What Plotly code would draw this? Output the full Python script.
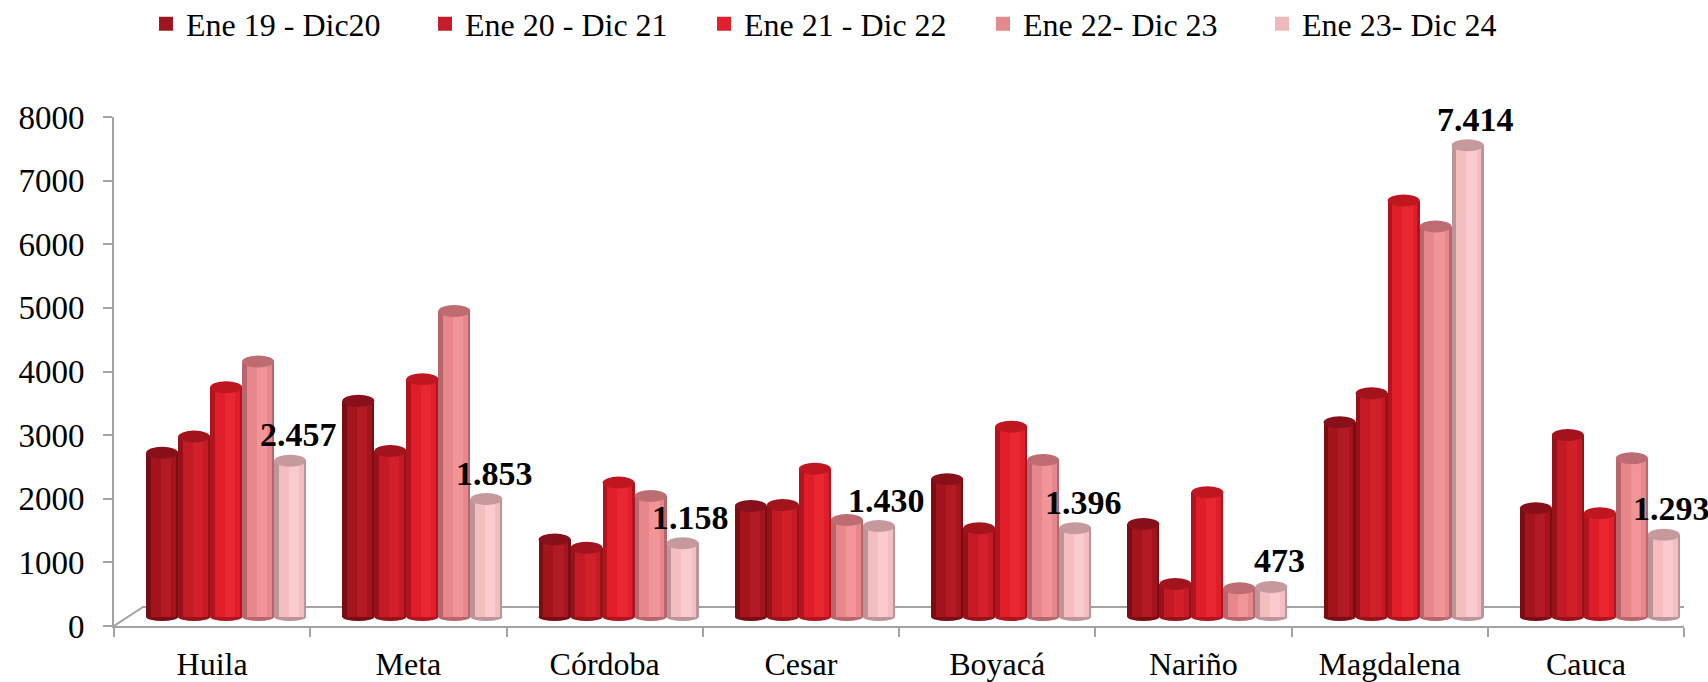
import plotly.graph_objects as go

# Departments and periods
categories = ["Huila", "Meta", "Córdoba", "Cesar", "Boyacá", "Nariño", "Magdalena", "Cauca"]
periods = ["Ene 19 - Dic20", "Ene 20 - Dic 21", "Ene 21 - Dic 22", "Ene 22- Dic 23", "Ene 23- Dic 24"]

ene19_dic20 = [2580, 3400, 1220, 1745, 2165, 1462, 3061, 1709]
ene20_dic21 = [2835, 2610, 1090, 1760, 1395, 519, 3517, 2862]
ene21_dic22 = [3611, 3737, 2112, 2332, 2992, 1960, 6546, 1630]
ene22_dic23 = [4014, 4811, 1903, 1525, 2469, 451, 6137, 2495]
ene23_dic24 = [2457, 1853, 1158, 1430, 1396, 473, 7414, 1293]

series = [ene19_dic20, ene20_dic21, ene21_dic22, ene22_dic23, ene23_dic24]

y_ticks = [0, 1000, 2000, 3000, 4000, 5000, 6000, 7000, 8000]

# cylinder shading per series: edge, body, highlight, top cap
edge_colors = ["#7A0D13", "#961219", "#B0141E", "#B8666B", "#BC9598"]
body_colors = ["#A3141D", "#C41A25", "#DF1E2A", "#E8878B", "#F4BEC1"]
high_colors = ["#B21B24", "#D2202B", "#EA2631", "#F29599", "#F9CBCE"]
cap_colors = ["#87101A", "#A3131C", "#C0161F", "#BD6C71", "#C6999C"]
legend_colors = ["#9E1620", "#C41E2A", "#E0212B", "#E38A8C", "#EFB9BA"]

FONT = "Liberation Serif"
AXIS_GRAY = "#A3A3A3"

W, H = 1708, 682
ML, MR, MT, MB = 114, 24, 117, 56
plot_w = W - ML - MR
plot_h = H - MT - MB
px_per_x = plot_w / 8.0
px_per_y = plot_h / 8000.0

bar_w = 32 / px_per_x          # width of each cylinder in category units
depth_dx = 14 / px_per_x       # cylinders sit mid-depth on the floor
depth_dy = 9 / px_per_y
cap_half = 6 / px_per_y        # half-height of the elliptical caps
base_half = 4 / px_per_y

fig = go.Figure()
shapes = []
annotations = []

for j, vals in enumerate(series):
    xs = [i + depth_dx + (j - 2) * bar_w for i in range(len(categories))]
    # outer (edge) layer
    fig.add_trace(go.Bar(
        x=xs, y=vals, width=bar_w, marker=dict(color=edge_colors[j], line=dict(width=0)),
        yaxis="y2", showlegend=False, hoverinfo="skip"))
    # body layer
    fig.add_trace(go.Bar(
        x=[x + 0.04 * bar_w for x in xs], y=vals, width=bar_w * 0.78,
        marker=dict(color=body_colors[j], line=dict(width=0)),
        yaxis="y2", name=periods[j], showlegend=False))
    # highlight band
    fig.add_trace(go.Bar(
        x=[x + 0.12 * bar_w for x in xs], y=vals, width=bar_w * 0.32,
        marker=dict(color=high_colors[j], line=dict(width=0)),
        yaxis="y2", showlegend=False, hoverinfo="skip"))
    # legend entry
    fig.add_trace(go.Bar(
        x=[None], y=[None], name=periods[j],
        marker=dict(color=legend_colors[j], line=dict(color=legend_colors[j], width=2)),
        yaxis="y2", showlegend=True))

    for x, v in zip(xs, vals):
        # rounded bottom of the cylinder
        shapes.append(dict(type="circle", xref="x", yref="y2", layer="below",
                           x0=x - bar_w / 2, x1=x + bar_w / 2, y0=-base_half, y1=base_half,
                           fillcolor=edge_colors[j], line=dict(width=0)))
        # top cap
        shapes.append(dict(type="circle", xref="x", yref="y2", layer="above",
                           x0=x - bar_w / 2, x1=x + bar_w / 2, y0=v - cap_half, y1=v + cap_half,
                           fillcolor=cap_colors[j], line=dict(width=0)))

# value labels on the last period
last_x = [i + depth_dx + 2 * bar_w for i in range(len(categories))]
for x, v in zip(last_x, ene23_dic24):
    annotations.append(dict(
        x=x, y=v, xref="x", yref="y2", text=f"{v:,}".replace(",", "."),
        showarrow=False, yshift=26, xshift=8, yanchor="middle",
        font=dict(family=FONT, size=34, color="black", weight="bold")))

# floor of the 3D plot area
floor_dx = 29 / px_per_x
floor_dx_right = 16 / px_per_x
floor_dy = 19 / px_per_y
shapes.append(dict(
    type="path", xref="x", yref="y", layer="below",
    path=(f"M {-0.5} 0 L {-0.5 + floor_dx} {floor_dy} "
          f"L {7.5 + floor_dx_right} {floor_dy} L 7.5 0"),
    line=dict(color=AXIS_GRAY, width=2)))

fig.update_layout(
    width=W, height=H,
    margin=dict(l=ML, r=MR, t=MT, b=MB, autoexpand=False),
    paper_bgcolor="white", plot_bgcolor="white",
    barmode="overlay", bargap=0,
    font=dict(family=FONT, color="black"),
    shapes=shapes, annotations=annotations,
    legend=dict(orientation="h", xref="container", yref="container",
                x=146 / W, y=1 - 24 / H, xanchor="left", yanchor="middle",
                entrywidth=234, entrywidthmode="pixels",
                font=dict(family=FONT, size=32, color="black"),
                traceorder="normal", bgcolor="rgba(0,0,0,0)"),
    xaxis=dict(range=[-0.5, 7.5], tickmode="array", tickvals=list(range(len(categories))),
               ticktext=categories, ticks="", showline=True, linecolor=AXIS_GRAY, linewidth=2,
               showgrid=False, zeroline=False, ticklabelstandoff=9,
               tickfont=dict(family=FONT, size=32, color="black"),
               minor=dict(tickmode="array", tickvals=[i - 0.5 for i in range(len(categories) + 1)],
                          ticks="outside", ticklen=9, tickwidth=2, tickcolor=AXIS_GRAY,
                          showgrid=False)),
    yaxis=dict(range=[0, 8000], tickmode="array", tickvals=y_ticks,
               ticktext=[str(t) for t in y_ticks], ticks="outside", ticklen=9, tickwidth=2,
               tickcolor=AXIS_GRAY, showline=True, linecolor=AXIS_GRAY, linewidth=2,
               showgrid=False, zeroline=False, ticklabelstandoff=12,
               tickfont=dict(family=FONT, size=33, color="black")),
    yaxis2=dict(range=[-depth_dy, 8000 - depth_dy], overlaying="y", visible=False),
)

fig.write_html("out.html")
